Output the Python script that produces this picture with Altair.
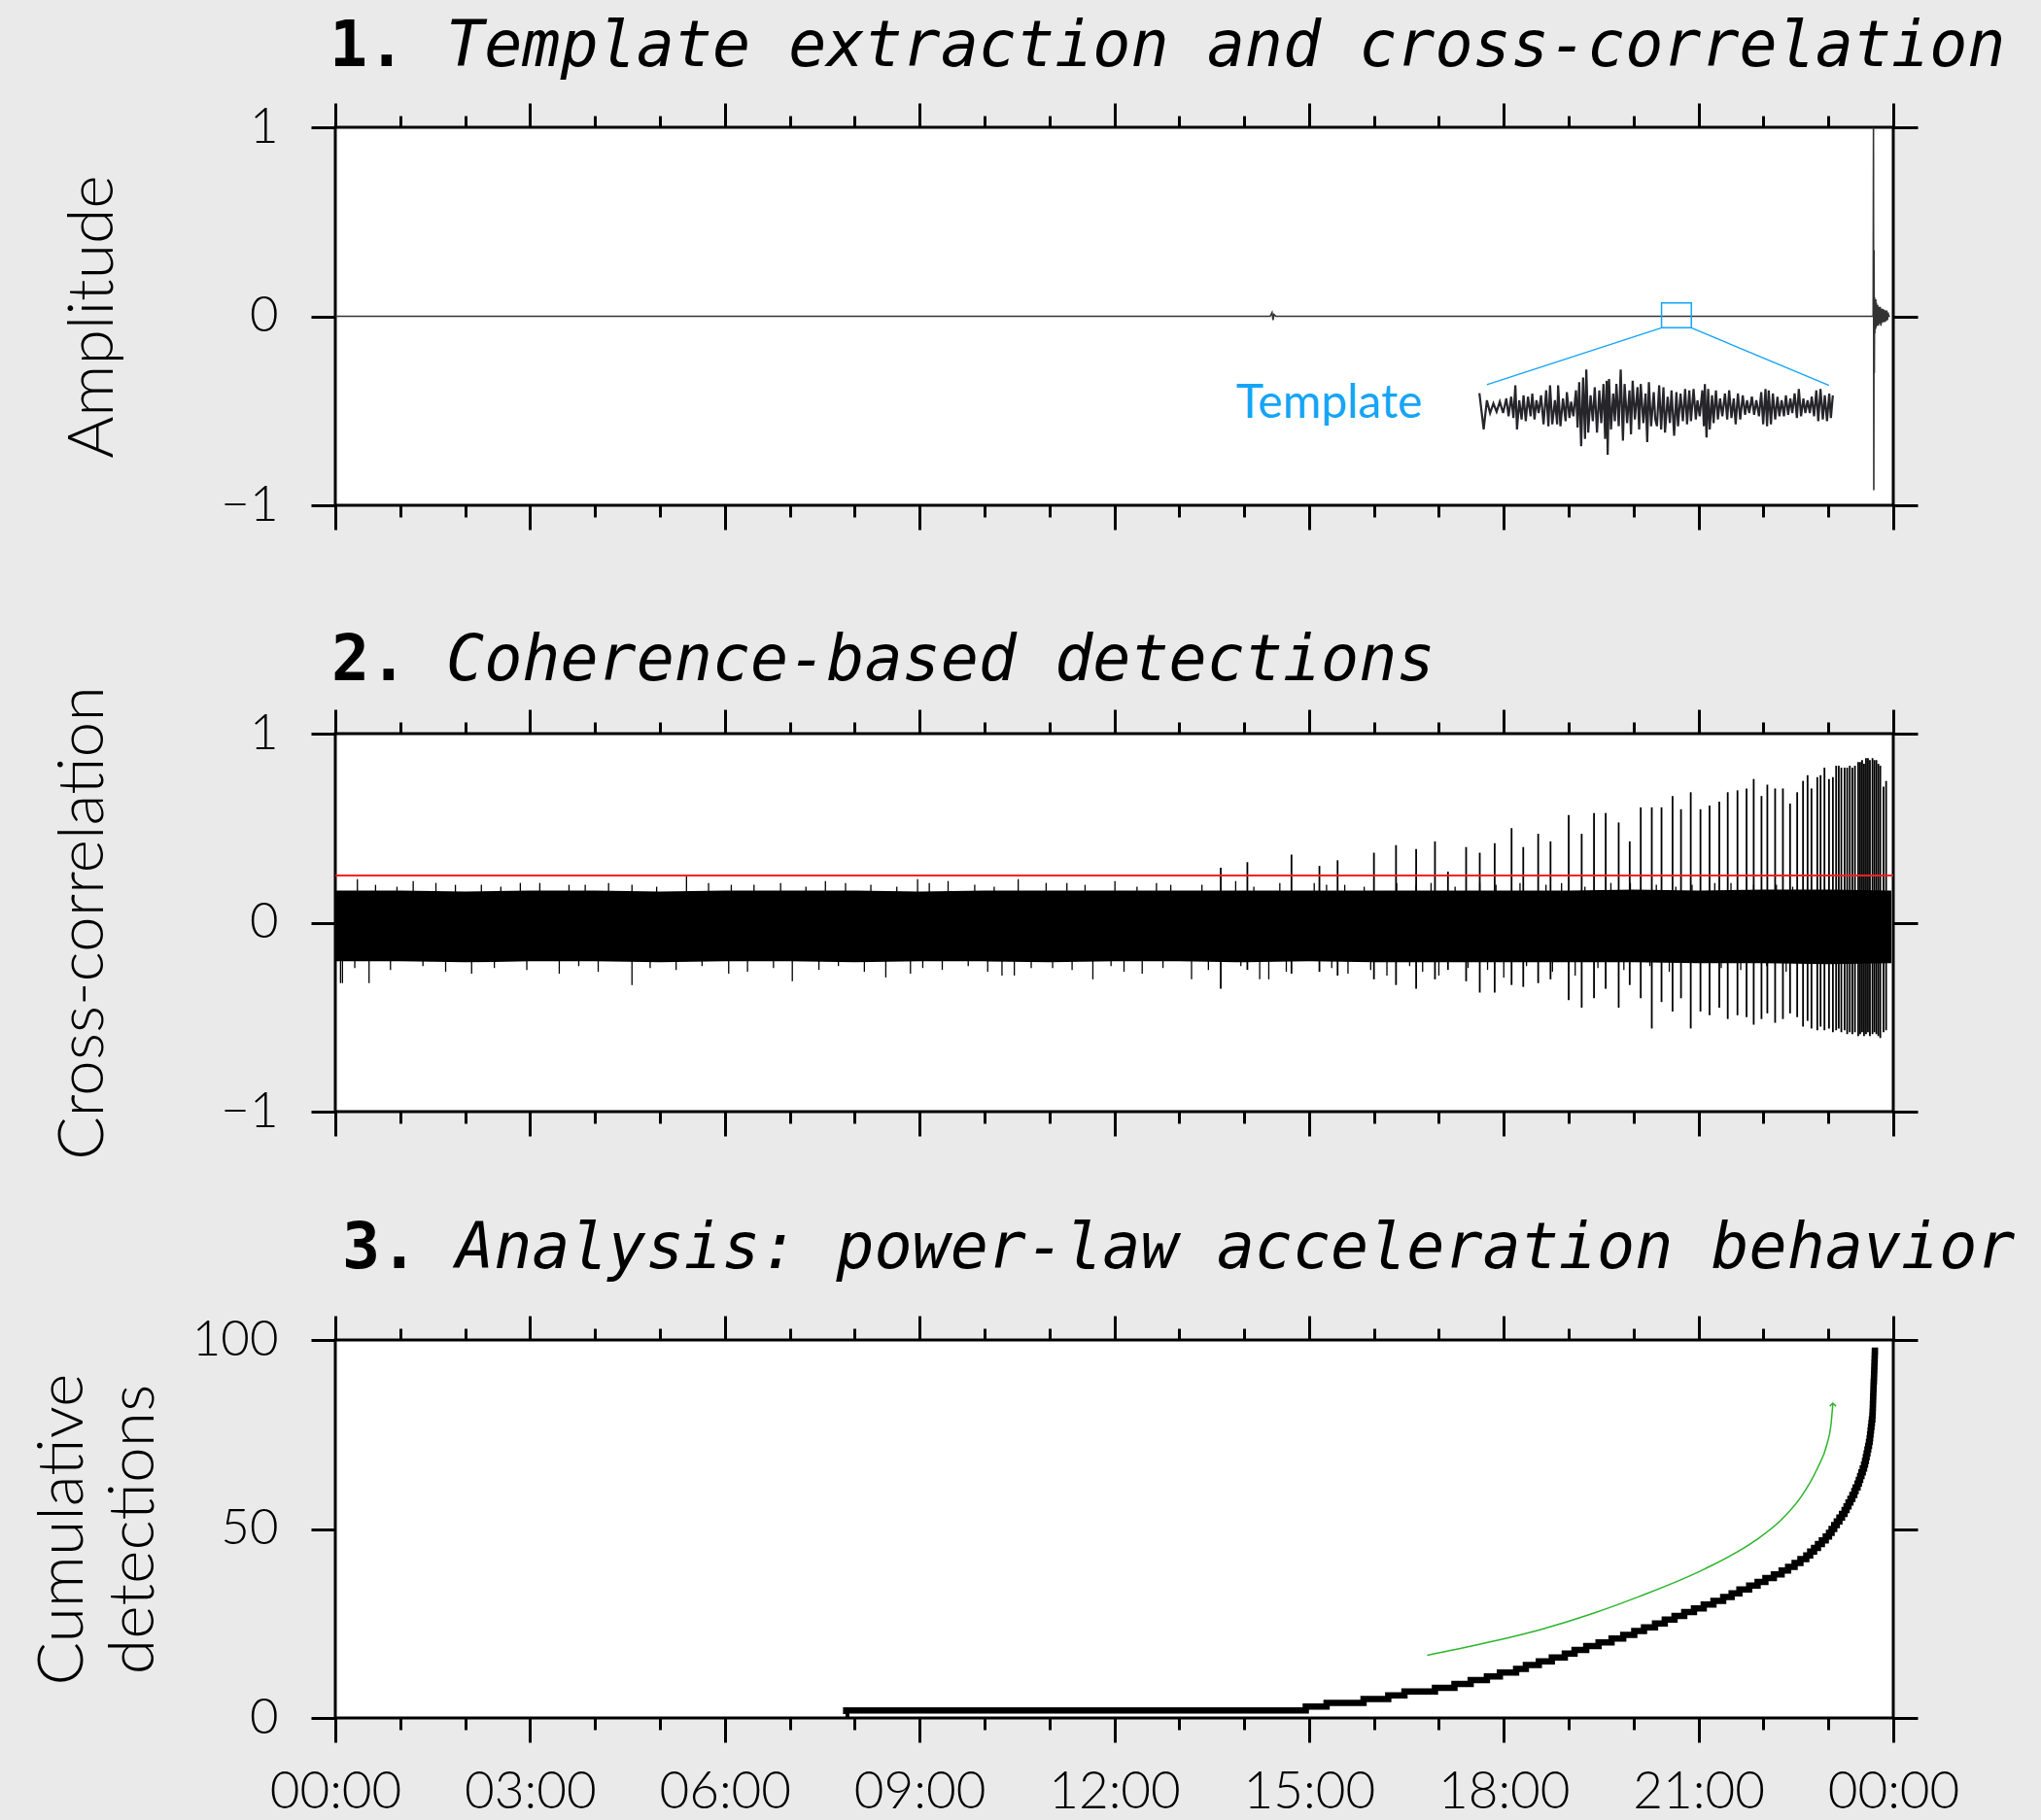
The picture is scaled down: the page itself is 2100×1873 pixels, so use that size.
import altair as alt
import pandas as pd

# ---------------- data ----------------
HOUR_TICKS = list(range(0, 25))

# Panel 1: continuous record (normalised amplitude)
trace_t = [0.0, 14.40, 14.43, 14.445, 14.46, 14.49,
           23.690, 23.695, 23.700, 23.704, 23.708, 23.712, 23.716, 23.720,
           23.725, 23.730, 23.735, 23.740,
           23.75, 23.76, 23.77, 23.78, 23.79, 23.80, 23.81, 23.82, 23.83, 23.84,
           23.85, 23.86, 23.87, 23.88, 23.89, 23.90, 23.91, 23.92, 23.93,
           23.95]
trace_v = [0.0, 0.0, 0.02, -0.02, 0.01, 0.0,
           0.0, 1.0, -0.92, 0.35, -0.30, 0.10, -0.09, 0.08,
           -0.07, 0.09, -0.06, 0.07,
           -0.05, 0.06, -0.05, 0.05, -0.04, 0.05, -0.05, 0.04, -0.035, 0.04,
           -0.03, 0.035, -0.03, 0.03, -0.025, 0.03, -0.02, 0.02, 0.0,
           0.0]

# template waveform (seconds within template, relative amplitude)
template_s = [0.03, 0.47, 0.80, 1.13, 1.47, 1.80, 2.13, 2.47, 2.80, 3.03,
              3.30, 3.53, 3.73, 3.90, 4.13, 4.37, 4.57, 4.80, 5.03, 5.30,
              5.47, 5.70, 5.90, 6.13, 6.37, 6.63, 6.90, 7.13, 7.30, 7.53,
              7.80, 8.03, 8.13, 8.37, 8.63, 8.90, 9.03, 9.30, 9.47, 9.70,
              9.97, 10.13, 10.30, 10.50, 10.70, 10.90, 11.03, 11.23, 11.47, 11.70,
              11.90, 12.13, 12.37, 12.57, 12.80, 12.97, 13.13, 13.23, 13.37, 13.57,
              13.80, 13.97, 14.13, 14.37, 14.57, 14.80, 14.97, 15.23, 15.47, 15.63,
              15.80, 16.03, 16.30, 16.47, 16.63, 16.90, 17.13, 17.30, 17.47, 17.70,
              17.97, 18.13,
              18.30, 18.53, 18.73, 18.97, 19.13, 19.40, 19.63, 19.80, 20.07, 20.30,
              20.47, 20.73, 20.97, 21.20, 21.40, 21.63, 21.80, 22.07, 22.30, 22.47,
              22.70, 22.97, 23.13, 23.23, 23.40, 23.57, 23.73, 23.97, 24.13, 24.37,
              24.57, 24.80, 25.03, 25.30, 25.53, 25.73, 25.97, 26.20, 26.40, 26.63,
              26.87, 27.13, 27.37, 27.57, 27.80, 28.07, 28.30, 28.53, 28.80, 29.03,
              29.23, 29.47, 29.63, 29.80, 30.03, 30.23, 30.47, 30.70, 30.90, 31.13,
              31.37, 31.57, 31.80, 32.03, 32.23, 32.47, 32.70, 32.90, 33.13, 33.37,
              33.57, 33.80, 34.03, 34.23, 34.47, 34.70, 34.90, 35.13, 35.37, 35.57,
              35.80, 36.03, 36.20, 36.40]
template_amp = [0.37, -0.43, 0.21, -0.07, 0.14, -0.04, 0.18, -0.07, 0.25, -0.14,
                0.29, -0.18, 0.54, -0.43, 0.21, -0.21, 0.32, -0.25, 0.29, -0.14,
                0.36, -0.21, 0.21, -0.07, 0.32, -0.32, 0.43, -0.36, 0.54, -0.32,
                0.21, -0.32, 0.54, -0.36, 0.25, -0.25, 0.39, -0.18, 0.18, -0.14,
                0.43, -0.39, 0.61, -0.80, 0.71, -0.64, 0.89, -0.50, 0.32, -0.25,
                0.50, -0.50, 0.43, -0.29, 0.57, -0.64, 0.64, -0.99, 0.68, -0.43,
                0.36, -0.25, 0.57, -0.36, 0.89, -0.68, 0.57, -0.29, 0.43, -0.54,
                0.64, -0.21, 0.50, -0.43, 0.57, -0.29, 0.36, -0.71, 0.61, -0.36,
                0.39, -0.21,
                -0.36, 0.54, -0.43, 0.50, -0.50, 0.29, -0.29, 0.43, -0.57, 0.39,
                -0.36, 0.36, -0.25, 0.46, -0.32, 0.43, -0.25, 0.46, -0.21, 0.21,
                -0.14, 0.43, -0.36, 0.57, -0.61, 0.46, -0.43, 0.32, -0.29, 0.43,
                -0.21, 0.25, -0.14, 0.36, -0.21, 0.43, -0.18, 0.25, -0.32, 0.36,
                -0.21, 0.32, -0.11, 0.21, -0.07, 0.29, -0.11, 0.21, -0.14, 0.39,
                -0.32, 0.46, -0.36, 0.43, -0.32, 0.36, -0.21, 0.29, -0.14, 0.21,
                -0.14, 0.32, -0.11, 0.25, -0.07, 0.36, -0.18, 0.46, -0.14, 0.25,
                -0.07, 0.21, -0.07, 0.29, -0.14, 0.43, -0.25, 0.46, -0.21, 0.32,
                -0.25, 0.36, -0.18, 0.32]

# inset placement (data units of panel 1)
inset_start_h = 17.62
inset_h_per_s = 0.1497
inset_center = -0.495
inset_gain = 0.24
box_t = [20.43, 20.89]
box_v = [-0.061, 0.071]
conn_from_t = [20.43, 20.89]
conn_from_v = [-0.061, -0.061]
conn_to_t = [17.74, 23.01]
conn_to_v = [-0.362, -0.366]
template_label = ["Template"]
template_label_t = [15.31]
template_label_v = [-0.465]

# Panel 2: cross-correlation noise envelope
band_t = [0.0, 1.0, 2.0, 3.0, 4.0, 5.0, 6.0, 7.0, 8.0, 9.0, 10.0, 11.0, 12.0, 13.0,
          14.0, 15.0, 16.0, 17.0, 18.0, 19.0, 20.0, 21.0, 22.0, 23.0, 23.97]
band_top = [0.17, 0.17, 0.165, 0.17, 0.17, 0.165, 0.17, 0.17, 0.17, 0.165, 0.17, 0.17,
            0.17, 0.17, 0.17, 0.17, 0.17, 0.17, 0.17, 0.17, 0.175, 0.17, 0.175, 0.175, 0.17]
band_bot = [-0.205, -0.205, -0.21, -0.205, -0.205, -0.21, -0.205, -0.205, -0.21, -0.205,
            -0.205, -0.21, -0.205, -0.205, -0.21, -0.205, -0.21, -0.21, -0.21, -0.21,
            -0.21, -0.215, -0.215, -0.22, -0.215]

# excursions beyond the noise band
hair_t = [0.34, 1.20, 1.85, 2.85, 3.60, 4.21, 4.57, 5.41, 6.10, 6.86, 7.86, 8.97, 9.44,
          10.52, 11.27, 12.01, 12.87, 13.87, 15.08, 15.27, 16.88, 17.63, 17.88, 18.89,
          19.65, 20.90, 21.50, 22.20,
          0.08, 0.11, 0.52, 2.10, 3.45, 4.57, 6.06, 7.04, 8.48, 8.86, 10.27, 10.46, 10.72,
          11.67, 12.43, 13.19, 14.24, 14.38, 15.60, 16.20, 17.00, 18.00, 19.10,
          0.62, 0.95, 1.55, 2.25, 2.55, 3.15, 3.85, 4.95, 5.75, 6.45, 7.25, 7.55, 8.25,
          8.65, 9.15, 9.85, 10.15, 10.95, 11.55, 12.35, 12.65, 13.35, 14.15, 14.55, 15.55,
          15.85, 16.35, 16.65, 17.25, 18.25, 18.65, 19.25, 19.95, 20.35, 20.65, 21.25,
          21.85, 22.45,
          0.30, 0.85, 1.35, 1.70, 2.45, 2.95, 3.75, 4.05, 4.85, 5.25, 5.65, 6.35, 6.75,
          7.45, 7.75, 8.15, 9.05, 9.35, 9.75, 10.05, 11.05, 11.35, 11.95, 12.15, 12.75,
          13.45, 13.95, 14.65, 15.35, 15.95, 16.55, 16.75, 17.45, 17.75, 18.35, 18.75,
          19.45, 19.85, 20.25, 20.55, 21.35, 21.65, 22.05, 22.35]
hair_v = [0.23, 0.22, 0.20, 0.21, 0.20, 0.21, 0.20, 0.25, 0.20, 0.21, 0.21, 0.23, 0.22,
          0.23, 0.21, 0.22, 0.20, 0.22, 0.21, 0.20, 0.21, 0.21, 0.20, 0.21,
          0.21, 0.20, 0.21, 0.20,
          -0.32, -0.32, -0.32, -0.27, -0.27, -0.33, -0.27, -0.31, -0.29, -0.27, -0.28, -0.28,
          -0.24, -0.30, -0.27, -0.30, -0.30, -0.30, -0.27, -0.28, -0.28, -0.29, -0.28,
          0.20, 0.19, 0.21, 0.20, 0.19, 0.21, 0.20, 0.19, 0.21, 0.20, 0.19, 0.22, 0.20,
          0.19, 0.21, 0.20, 0.19, 0.21, 0.20, 0.19, 0.21, 0.20, 0.19, 0.21, 0.20,
          0.19, 0.21, 0.20, 0.19, 0.21, 0.20, 0.19, 0.21, 0.20, 0.19, 0.21,
          0.20, 0.19,
          -0.24, -0.25, -0.23, -0.26, -0.24, -0.25, -0.23, -0.26, -0.24, -0.25, -0.23,
          -0.26, -0.24, -0.25, -0.23, -0.26, -0.24, -0.25, -0.23, -0.26, -0.24, -0.25,
          -0.23, -0.26, -0.24, -0.25, -0.23, -0.26, -0.24, -0.25, -0.23, -0.26, -0.24,
          -0.25, -0.23, -0.26, -0.24, -0.25, -0.23, -0.26, -0.24, -0.25, -0.23, -0.26]

# detection peaks in the cross-correlation
spike_t = [0.00, 13.64, 14.05, 14.73, 15.16, 15.44, 16.00, 16.34, 16.65, 16.94, 17.14,
           17.42, 17.63, 17.86, 18.12, 18.30, 18.53, 18.72, 19.00, 19.20, 19.39, 19.57,
           19.77, 19.94, 20.11, 20.28, 20.43, 20.60, 20.73, 20.88, 21.03, 21.17, 21.32,
           21.45, 21.60, 21.74, 21.85, 21.97, 22.06, 22.18, 22.30, 22.41, 22.52, 22.61,
           22.68, 22.74, 22.83, 22.88, 22.94, 23.01, 23.07, 23.12, 23.16, 23.20, 23.25,
           23.29, 23.33, 23.37, 23.41, 23.46, 23.49, 23.52, 23.55, 23.58, 23.61, 23.64,
           23.68, 23.71, 23.74, 23.77, 23.80, 23.85, 23.89]
spike_top = [0.91, 0.29, 0.32, 0.36, 0.30, 0.33, 0.37, 0.41, 0.39, 0.43, 0.27,
             0.40, 0.37, 0.42, 0.50, 0.40, 0.47, 0.43, 0.57, 0.47, 0.58, 0.58,
             0.53, 0.43, 0.61, 0.61, 0.61, 0.67, 0.60, 0.69, 0.60, 0.62, 0.64,
             0.69, 0.70, 0.71, 0.76, 0.67, 0.73, 0.71, 0.71, 0.63, 0.69, 0.75,
             0.78, 0.71, 0.77, 0.78, 0.82, 0.76, 0.77, 0.83, 0.83, 0.82, 0.82,
             0.82, 0.83, 0.82, 0.83, 0.85, 0.85, 0.86, 0.84, 0.87, 0.87, 0.86,
             0.87, 0.86, 0.86, 0.84, 0.83, 0.72, 0.75]
spike_bot = [-0.93, -0.35, -0.25, -0.27, -0.26, -0.28, -0.30, -0.33, -0.35, -0.30, -0.25,
             -0.31, -0.37, -0.37, -0.33, -0.34, -0.32, -0.30, -0.41, -0.45, -0.40, -0.35,
             -0.45, -0.33, -0.40, -0.56, -0.42, -0.47, -0.40, -0.56, -0.47, -0.49, -0.45,
             -0.51, -0.49, -0.50, -0.54, -0.51, -0.48, -0.53, -0.51, -0.48, -0.50, -0.55,
             -0.52, -0.56, -0.57, -0.55, -0.57, -0.56, -0.58, -0.57, -0.56, -0.58, -0.57,
             -0.59, -0.58, -0.59, -0.58, -0.60, -0.59, -0.58, -0.60, -0.59, -0.58, -0.60,
             -0.59, -0.58, -0.59, -0.60, -0.61, -0.58, -0.57]
threshold = [0.25]

# Panel 3: detection times (hours)
det_times = [7.86, 7.87,
             14.95, 15.27, 15.84, 16.22, 16.47, 16.94, 17.24, 17.49, 17.74, 17.94, 18.19,
             18.34, 18.54, 18.74, 18.94, 19.09,
             19.27, 19.46, 19.66, 19.84, 20.01, 20.16, 20.33, 20.48, 20.63, 20.78, 20.93,
             21.08, 21.23, 21.38, 21.51, 21.63, 21.78, 21.91, 22.03, 22.16, 22.28, 22.38,
             22.48,
             22.57, 22.66, 22.72, 22.78, 22.84, 22.90, 22.96,
             23.01, 23.05, 23.09, 23.13, 23.17, 23.21,
             23.25, 23.28, 23.31, 23.34, 23.37, 23.40, 23.42,
             23.45, 23.47, 23.49, 23.51, 23.53, 23.55,
             23.565, 23.578, 23.59, 23.602, 23.614, 23.626,
             23.636, 23.643, 23.65, 23.657, 23.664, 23.671, 23.678,
             23.681, 23.684, 23.686, 23.688, 23.690, 23.692, 23.694, 23.696, 23.698,
             23.702, 23.704, 23.706, 23.708, 23.710, 23.712, 23.714, 23.716, 23.718]

# power-law trend arrow
trend_t = [16.82, 17.57, 18.57, 19.38, 20.08, 21.08, 21.88, 22.28, 22.58, 22.83, 22.98,
           23.04, 23.07]
trend_n = [16.6, 19.3, 23.4, 27.7, 32.1, 39.3, 47.0, 52.5, 58.5, 66.0, 72.5, 77.5, 83.3]

titles = [("1.", "Template extraction and cross-correlation"),
          ("2.", "Coherence-based detections"),
          ("3.", "Analysis: power-law acceleration behavior")]

# ---------------- styling ----------------
W, H = 1603, 389
SPACING = 235
PAD_LEFT, PAD_TOP = 345, 131
PAD_RIGHT = 2100 - PAD_LEFT - W
PAD_BOTTOM = 1873 - PAD_TOP
BLUE = "#14A5F5"
GREEN = "#2DB52D"
MONO = "DejaVu Sans Mono"
SANS = "Lato"

xs = alt.Scale(domain=[0, 24], nice=False, zero=False)
ys1 = alt.Scale(domain=[-1, 1], nice=False, zero=False)
ys3 = alt.Scale(domain=[0, 100], nice=False, zero=False)

X_LABEL_EXPR = ("datum.value % 3 === 0 ? ((datum.value % 24) < 10 ? '0' : '') + "
                "(datum.value % 24) + ':00' : ''")
Y_LABEL_EXPR = "datum.value < 0 ? '\u2212' + (-datum.value) : '' + datum.value"


def xaxis(orient, labels=False):
    return alt.Axis(orient=orient, values=HOUR_TICKS, title=None, labels=labels,
                    labelExpr=X_LABEL_EXPR,
                    tickSize={"condition": {"test": "datum.value % 3 === 0", "value": 25},
                              "value": 12},
                    labelFontSize=53, labelPadding=25, labelOverlap=False,
                    labelFlush=False, labelBound=False)


def yaxis(orient, values, title=None, title_x=0, labels=True):
    kw = dict(orient=orient, values=values, tickSize=25, labels=labels,
              labelExpr=Y_LABEL_EXPR, labelFontSize=51, labelPadding=34,
              labelOverlap=False)
    if title is None:
        kw["title"] = None
    else:
        kw.update(title=title, titleAngle=270, titleX=title_x, titleY=H / 2,
                  titleAlign="center", titleBaseline="alphabetic", titleFontSize=66,
                  titleLineHeight=73, titleFont=SANS, titleFontWeight=300)
    return alt.Axis(**kw)


def title_layers(idx, num_x, base_y, text_x):
    num, txt = titles[idx]
    d = pd.DataFrame({"s": [num], "t": [txt]})
    a = alt.Chart(d).mark_text(font=MONO, fontSize=65, fontWeight="bold", align="left",
                               baseline="alphabetic", color="black").encode(
        x=alt.value(num_x), y=alt.value(base_y), text="s:N")
    b = alt.Chart(d).mark_text(font=MONO, fontSize=65, fontStyle="italic", align="left",
                               baseline="alphabetic", color="black").encode(
        x=alt.value(text_x), y=alt.value(base_y), text="t:N")
    return [a, b]


# ---------------- panel 1 ----------------
tr = pd.DataFrame({"t": trace_t, "v": trace_v})
p1_line = alt.Chart(tr).mark_line(color="#333333", strokeWidth=1.6).encode(
    x=alt.X("t:Q", scale=xs, axis=xaxis("bottom")),
    y=alt.Y("v:Q", scale=ys1, axis=yaxis("left", [-1, 0, 1], "Amplitude", -230)))

box = pd.DataFrame({"t0": [box_t[0]], "t1": [box_t[1]], "v0": [box_v[0]], "v1": [box_v[1]]})
p1_box = alt.Chart(box).mark_rect(fillOpacity=0, stroke=BLUE, strokeWidth=1.5).encode(
    x=alt.X("t0:Q", scale=xs, axis=xaxis("top")), x2="t1:Q",
    y=alt.Y("v0:Q", scale=ys1, axis=yaxis("right", [-1, 0, 1], labels=False)), y2="v1:Q")

conn = pd.DataFrame({"a": conn_from_t, "av": conn_from_v, "b": conn_to_t, "bv": conn_to_v})
p1_conn = alt.Chart(conn).mark_rule(color=BLUE, strokeWidth=1.4).encode(
    x=alt.X("a:Q", scale=xs, axis=None), x2="b:Q",
    y=alt.Y("av:Q", scale=ys1, axis=None), y2="bv:Q")

tpl = pd.DataFrame({"s": template_s, "a": template_amp})
tpl["h"] = inset_start_h + tpl["s"] * inset_h_per_s
tpl["v"] = inset_center + tpl["a"] * inset_gain
p1_tpl = alt.Chart(tpl).mark_line(color="#25252A", strokeWidth=2.2).encode(
    x=alt.X("h:Q", scale=xs, axis=None), y=alt.Y("v:Q", scale=ys1, axis=None),
    order="s:Q")

lab = pd.DataFrame({"t": template_label_t, "v": template_label_v, "s": template_label})
p1_lab = alt.Chart(lab).mark_text(font=SANS, fontSize=48, color=BLUE, align="center",
                                  baseline="middle").encode(
    x=alt.X("t:Q", scale=xs, axis=None), y=alt.Y("v:Q", scale=ys1, axis=None), text="s:N")

panel1 = alt.layer(p1_line, p1_box, p1_conn, p1_tpl, p1_lab,
                   *title_layers(0, -6, -63, 114)).resolve_axis(
    x="independent", y="independent").properties(width=W, height=H)

# ---------------- panel 2 ----------------
band = pd.DataFrame({"t": band_t, "top": band_top, "bot": band_bot})
p2_band = alt.Chart(band).mark_area(color="black", opacity=1).encode(
    x=alt.X("t:Q", scale=xs, axis=xaxis("bottom")),
    y=alt.Y("top:Q", scale=ys1, axis=yaxis("left", [-1, 0, 1], "Cross-correlation", -240)),
    y2="bot:Q")

spk = pd.DataFrame({"t": spike_t, "top": spike_top, "bot": spike_bot})
p2_spk = alt.Chart(spk).mark_rule(color="black", strokeWidth=1.8).encode(
    x=alt.X("t:Q", scale=xs, axis=xaxis("top")),
    y=alt.Y("top:Q", scale=ys1, axis=yaxis("right", [-1, 0, 1], labels=False)), y2="bot:Q")

hair = pd.DataFrame({"t": hair_t, "v": hair_v})
p2_hair = alt.Chart(hair).mark_rule(color="black", strokeWidth=1.3).encode(
    x=alt.X("t:Q", scale=xs, axis=None), y=alt.Y("v:Q", scale=ys1, axis=None),
    y2=alt.datum(0))

thr = pd.DataFrame({"v": threshold})
p2_thr = alt.Chart(thr).mark_rule(color="#FF2020", strokeWidth=2).encode(
    y=alt.Y("v:Q", scale=ys1, axis=None))

panel2 = alt.layer(p2_band, p2_spk, p2_hair, p2_thr,
                   *title_layers(1, -4, -55, 114)).resolve_axis(
    x="independent", y="independent").properties(width=W, height=H)

# ---------------- panel 3 ----------------
det = pd.DataFrame({"t": det_times})
p3_cum = alt.Chart(det).transform_window(
    n="count()", sort=[alt.SortField("t", order="ascending")]
).mark_line(color="black", strokeWidth=6.5, interpolate="step-after").encode(
    x=alt.X("t:Q", scale=xs, axis=xaxis("bottom", labels=True)),
    y=alt.Y("n:Q", scale=ys3,
            axis=yaxis("left", [0, 50, 100], ["Cumulative", "detections"], -261)))

trend = pd.DataFrame({"t": trend_t, "n": trend_n})
p3_trend = alt.Chart(trend).mark_line(color=GREEN, strokeWidth=1.5,
                                      interpolate="monotone").encode(
    x=alt.X("t:Q", scale=xs, axis=xaxis("top")),
    y=alt.Y("n:Q", scale=ys3, axis=yaxis("right", [0, 50, 100], labels=False)))

tip = trend.tail(1)
p3_tip = alt.Chart(tip).mark_point(shape="M-1,1L0,0L1,1", filled=False, color=GREEN,
                                   strokeWidth=1.5, size=40, opacity=1).encode(
    x=alt.X("t:Q", scale=xs, axis=None), y=alt.Y("n:Q", scale=ys3, axis=None))

panel3 = alt.layer(p3_cum, p3_trend, p3_tip,
                   *title_layers(2, 7, -74, 124)).resolve_axis(
    x="independent", y="independent").properties(width=W, height=H)

# ---------------- compose ----------------
chart = alt.vconcat(panel1, panel2, panel3, spacing=SPACING, bounds="flush").properties(
    autosize=alt.AutoSizeParams(type="none"),
    padding={"left": PAD_LEFT, "top": PAD_TOP, "right": PAD_RIGHT, "bottom": PAD_BOTTOM},
).configure(background="#EAEAEA", font=SANS).configure_view(
    fill="white", stroke="black", strokeWidth=3
).configure_axis(
    domain=False, grid=False, tickColor="black", tickWidth=3, labelColor="black",
    labelFont=SANS, labelFontWeight=300, titleColor="black"
)

chart.save("out.html", embed_options={"renderer": "svg", "actions": False})
